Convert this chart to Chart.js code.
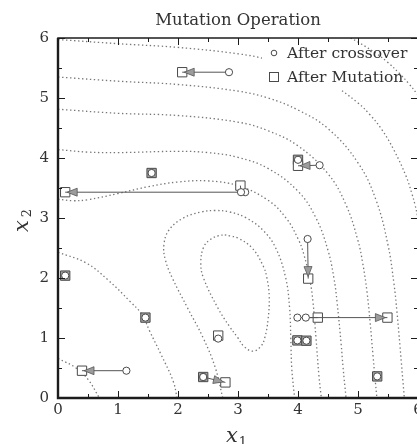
<!DOCTYPE html>
<html>
<head>
<meta charset="utf-8">
<script src="https://cdn.jsdelivr.net/npm/chart.js@4.4.1/dist/chart.umd.min.js"></script>
<style>
  html, body { margin: 0; padding: 0; background: #fff; overflow: hidden; }
  #wrap { width: 430px; height: 444px; }
</style>
</head>
<body>
<div id="wrap"><canvas id="chart" width="430" height="444"></canvas></div>
<script>
// population after crossover and after mutation (same index = same individual)
const crossX = [1.14, 1.457, 2.67, 2.42, 2.42, 3.99, 4.13, 3.99, 4.14, 5.32, 4.16, 0.12, 1.56, 3.12, 3.05, 4.00, 4.36, 2.85];
const crossY = [0.455, 1.34, 0.99, 0.35, 0.35, 1.34, 1.34, 0.96, 0.955, 0.36, 2.65, 2.04, 3.75, 3.43, 3.43, 3.97, 3.88, 5.43];
const mutX = [0.40, 1.457, 2.67, 2.42, 2.79, 5.49, 4.33, 3.99, 4.14, 5.32, 4.17, 0.12, 1.56, 0.12, 3.04, 4.00, 4.00, 2.07];
const mutY = [0.455, 1.34, 1.04, 0.35, 0.26, 1.34, 1.34, 0.96, 0.955, 0.36, 1.99, 2.04, 3.75, 3.43, 3.54, 3.97, 3.87, 5.43];

// contour lines of the objective
const level10 = [[2.78, 2.72], [2.87, 2.70], [3.00, 2.665], [3.235, 2.5], [3.42, 2.2], [3.482, 2.0], [3.52, 1.7], [3.50, 1.3], [3.445, 1.0], [3.38, 0.86], [3.25, 0.78], [3.10, 0.86], [3.0, 1.0], [2.853, 1.2], [2.665, 1.5], [2.425, 2.0], [2.38, 2.25], [2.43, 2.52], [2.55, 2.65], [2.68, 2.705], [2.78, 2.72]];
const level30 = [[2.746, 0], [2.623, 0.5], [2.42, 1.0], [2.16, 1.5], [1.905, 2.0], [1.79, 2.3], [1.765, 2.55], [1.85, 2.8], [2.09, 3.0], [2.385, 3.1], [2.62, 3.125], [2.865, 3.1], [3.14, 3.0], [3.412, 2.8], [3.628, 2.5], [3.795, 2.0], [3.86, 1.5], [3.88, 1.0], [3.896, 0.5], [3.943, 0]];
const level75a = [[0, 2.43], [0.47, 2.25], [0.83, 1.97], [1.2, 1.61], [1.4, 1.39], [1.53, 1.11], [1.72, 0.72], [1.92, 0.28], [1.985, 0]];
const level75b = [[0, 3.315], [0.25, 3.288], [0.5, 3.305], [1.0, 3.408], [1.5, 3.521], [2.0, 3.6], [2.5, 3.618], [3.0, 3.538], [3.5, 3.297], [3.8, 3.0], [4.0, 2.655], [4.1, 2.385], [4.2, 1.955], [4.25, 1.6], [4.3, 1.0], [4.35, 0.36], [4.389, 0]];
const level150a = [[0, 0.66], [0.3, 0.5], [0.5, 0.31], [0.69, 0]];
const level150b = [[0, 4.14], [0.5, 4.098], [1, 4.09], [2, 4.111], [2.5, 4.09], [3, 4.01], [3.5, 3.826], [4, 3.446], [4.3, 3.0], [4.5, 2.46], [4.6, 1.99], [4.65, 1.61], [4.72, 0.89], [4.75, 0.52], [4.801, 0]];
const level300 = [[0, 4.813], [1, 4.745], [2, 4.708], [3, 4.598], [3.5, 4.455], [4, 4.202], [4.5, 3.737], [4.8, 3.22], [5, 2.62], [5.08, 2.24], [5.15, 1.77], [5.2, 1.28], [5.25, 0.71], [5.314, 0]];
const level500 = [[0, 5.35], [1, 5.28], [2, 5.225], [3, 5.115], [3.5, 5.0], [4, 4.8], [4.5, 4.49], [5, 3.92], [5.3, 3.3], [5.5, 2.55], [5.6, 1.9], [5.65, 1.43], [5.7, 0.86], [5.772, 0]];
const level850 = [[0, 5.975], [1, 5.905], [2, 5.843], [3, 5.737], [3.5, 5.642], [4, 5.498], [4.5, 5.271], [5, 4.918], [5.2, 4.72], [5.4, 4.47], [5.6, 4.13], [5.8, 3.7], [5.9, 3.4], [5.95, 3.22], [6, 3.0]];
const level1500 = [[4.875, 6], [5, 5.933], [5.3, 5.745], [5.5, 5.59], [5.7, 5.4], [5.85, 5.236], [6, 5.05]];
const contours = [level10, level30, level75a, level75b, level150a, level150b, level300, level500, level850, level1500];

const tickValues = [0, 1, 2, 3, 4, 5, 6];

const SERIF = '"DejaVu Serif", serif';
const INK = '#4a4a4a';

const moved = crossX.map((x, i) => x !== mutX[i] || crossY[i] !== mutY[i]);

const contourSets = contours.map(c => ({
  data: c.map(([x, y]) => ({ x, y })),
  showLine: true,
  pointRadius: 0,
  tension: 0.4,
  borderColor: '#777',
  borderWidth: 1.3,
  borderDash: [1.4, 2.6],
  order: 3
}));

const mutSet = {
  label: 'After Mutation',
  data: mutX.map((x, i) => ({ x, y: mutY[i] })),
  pointStyle: 'rect',
  pointRadius: 6.6,
  pointBorderWidth: 1,
  pointBorderColor: INK,
  pointBackgroundColor: moved.map(m => (m ? '#ffffff' : '#a4a4a4')),
  order: 2
};

const crossSet = {
  label: 'After crossover',
  data: crossX.map((x, i) => ({ x, y: crossY[i] })),
  pointStyle: 'circle',
  pointRadius: 3.6,
  pointBorderWidth: 1,
  pointBorderColor: INK,
  pointBackgroundColor: '#ffffff',
  order: 1
};

// arrow from each crossover point to its mutated position
const arrows = {
  id: 'arrows',
  afterDatasetDraw(chart, args) {
    if (chart.data.datasets[args.index] !== mutSet) return;
    const { ctx, scales: { x, y } } = chart;
    ctx.save();
    for (let i = 0; i < crossX.length; i++) {
      if (!moved[i]) continue;
      const x0 = x.getPixelForValue(crossX[i]), y0 = y.getPixelForValue(crossY[i]);
      const x1 = x.getPixelForValue(mutX[i]), y1 = y.getPixelForValue(mutY[i]);
      const dx = x1 - x0, dy = y1 - y0, len = Math.hypot(dx, dy);
      const ux = dx / len, uy = dy / len;
      ctx.strokeStyle = '#555';
      ctx.lineWidth = 1;
      ctx.beginPath();
      ctx.moveTo(x0, y0);
      ctx.lineTo(x1, y1);
      ctx.stroke();
      if (len < 14) continue;
      const tx = x1 - ux * 2, ty = y1 - uy * 2;
      const bx = tx - ux * 10, by = ty - uy * 10;
      ctx.beginPath();
      ctx.moveTo(tx, ty);
      ctx.lineTo(bx - uy * 4, by + ux * 4);
      ctx.lineTo(bx + uy * 4, by - ux * 4);
      ctx.closePath();
      ctx.fillStyle = '#9c9c9c';
      ctx.fill();
      ctx.lineWidth = 0.8;
      ctx.stroke();
    }
    ctx.restore();
  }
};

// key in the upper right corner of the plot
const key = {
  id: 'key',
  afterDatasetsDraw(chart) {
    const { ctx, chartArea: a } = chart;
    ctx.save();
    ctx.fillStyle = '#fff';
    ctx.fillRect(a.right - 156, a.top + 6, 96, 46);
    ctx.strokeStyle = INK;
    ctx.lineWidth = 1;
    ctx.beginPath();
    ctx.arc(a.right - 144, a.top + 15, 2.8, 0, Math.PI * 2);
    ctx.stroke();
    ctx.strokeRect(a.right - 148.5, a.top + 34.5, 9, 9);
    ctx.fillStyle = '#333';
    ctx.font = '15.5px ' + SERIF;
    ctx.textBaseline = 'alphabetic';
    ctx.fillText('After crossover', a.right - 131, a.top + 20);
    ctx.fillText('After Mutation', a.right - 131, a.top + 44);
    ctx.restore();
  }
};

// closed frame with inward ticks, title and axis titles
const frame = {
  id: 'frame',
  afterDraw(chart) {
    const { ctx, chartArea: a, scales: { x, y } } = chart;
    ctx.save();
    ctx.strokeStyle = '#1c1c1c';
    ctx.lineWidth = 1;
    ctx.beginPath();
    tickValues.forEach((v, i) => {
      const vals = i < tickValues.length - 1 ? [v, (v + tickValues[i + 1]) / 2] : [v];
      vals.forEach((t, k) => {
        const len = k === 0 ? 7 : 4;
        const px = Math.round(x.getPixelForValue(t)) + 0.5;
        const py = Math.round(y.getPixelForValue(t)) + 0.5;
        ctx.moveTo(px, a.bottom); ctx.lineTo(px, a.bottom - len);
        ctx.moveTo(px, a.top); ctx.lineTo(px, a.top + len);
        ctx.moveTo(a.left, py); ctx.lineTo(a.left + len, py);
        ctx.moveTo(a.right, py); ctx.lineTo(a.right - len, py);
      });
    });
    ctx.stroke();
    ctx.lineWidth = 1.5;
    ctx.strokeRect(a.left, a.top, a.right - a.left, a.bottom - a.top);
    ctx.lineWidth = 2.4;
    ctx.beginPath();
    ctx.moveTo(a.left, a.top);
    ctx.lineTo(a.left, a.bottom);
    ctx.lineTo(a.right, a.bottom);
    ctx.stroke();

    const cx = (a.left + a.right) / 2;
    ctx.fillStyle = '#333';
    ctx.textBaseline = 'alphabetic';
    ctx.textAlign = 'center';
    ctx.font = '16.5px ' + SERIF;
    ctx.fillText('Mutation Operation', cx, 25);

    ctx.font = 'italic 21px ' + SERIF;
    ctx.fillText('x', cx - 6, a.bottom + 44);
    ctx.font = '13px ' + SERIF;
    ctx.fillText('1', cx + 5, a.bottom + 48);

    ctx.translate(28, (a.top + a.bottom) / 2 + 8);
    ctx.rotate(-Math.PI / 2);
    ctx.font = 'italic 21px ' + SERIF;
    ctx.fillText('x', 0, 0);
    ctx.font = '13px ' + SERIF;
    ctx.fillText('2', 13, 3);
    ctx.restore();
  }
};

const axis = (fit, pad) => ({
  type: 'linear',
  min: 0,
  max: 6,
  afterBuildTicks: s => { s.ticks = tickValues.map(v => ({ value: v })); },
  afterFit: fit,
  grid: { display: false, drawTicks: false },
  border: { display: false },
  ticks: { font: { family: SERIF, size: 15 }, color: '#333', padding: pad }
});

new Chart(document.getElementById('chart'), {
  type: 'scatter',
  data: { datasets: [...contourSets, mutSet, crossSet] },
  options: {
    responsive: false,
    animation: false,
    events: [],
    layout: { padding: { left: 0, right: 12, top: 38, bottom: 0 } },
    scales: {
      x: axis(s => { s.height = 46; }, 3),
      y: axis(s => { s.width = 58; }, 9)
    },
    plugins: {
      legend: { display: false },
      tooltip: { enabled: false }
    }
  },
  plugins: [arrows, key, frame]
});
</script>
</body>
</html>
